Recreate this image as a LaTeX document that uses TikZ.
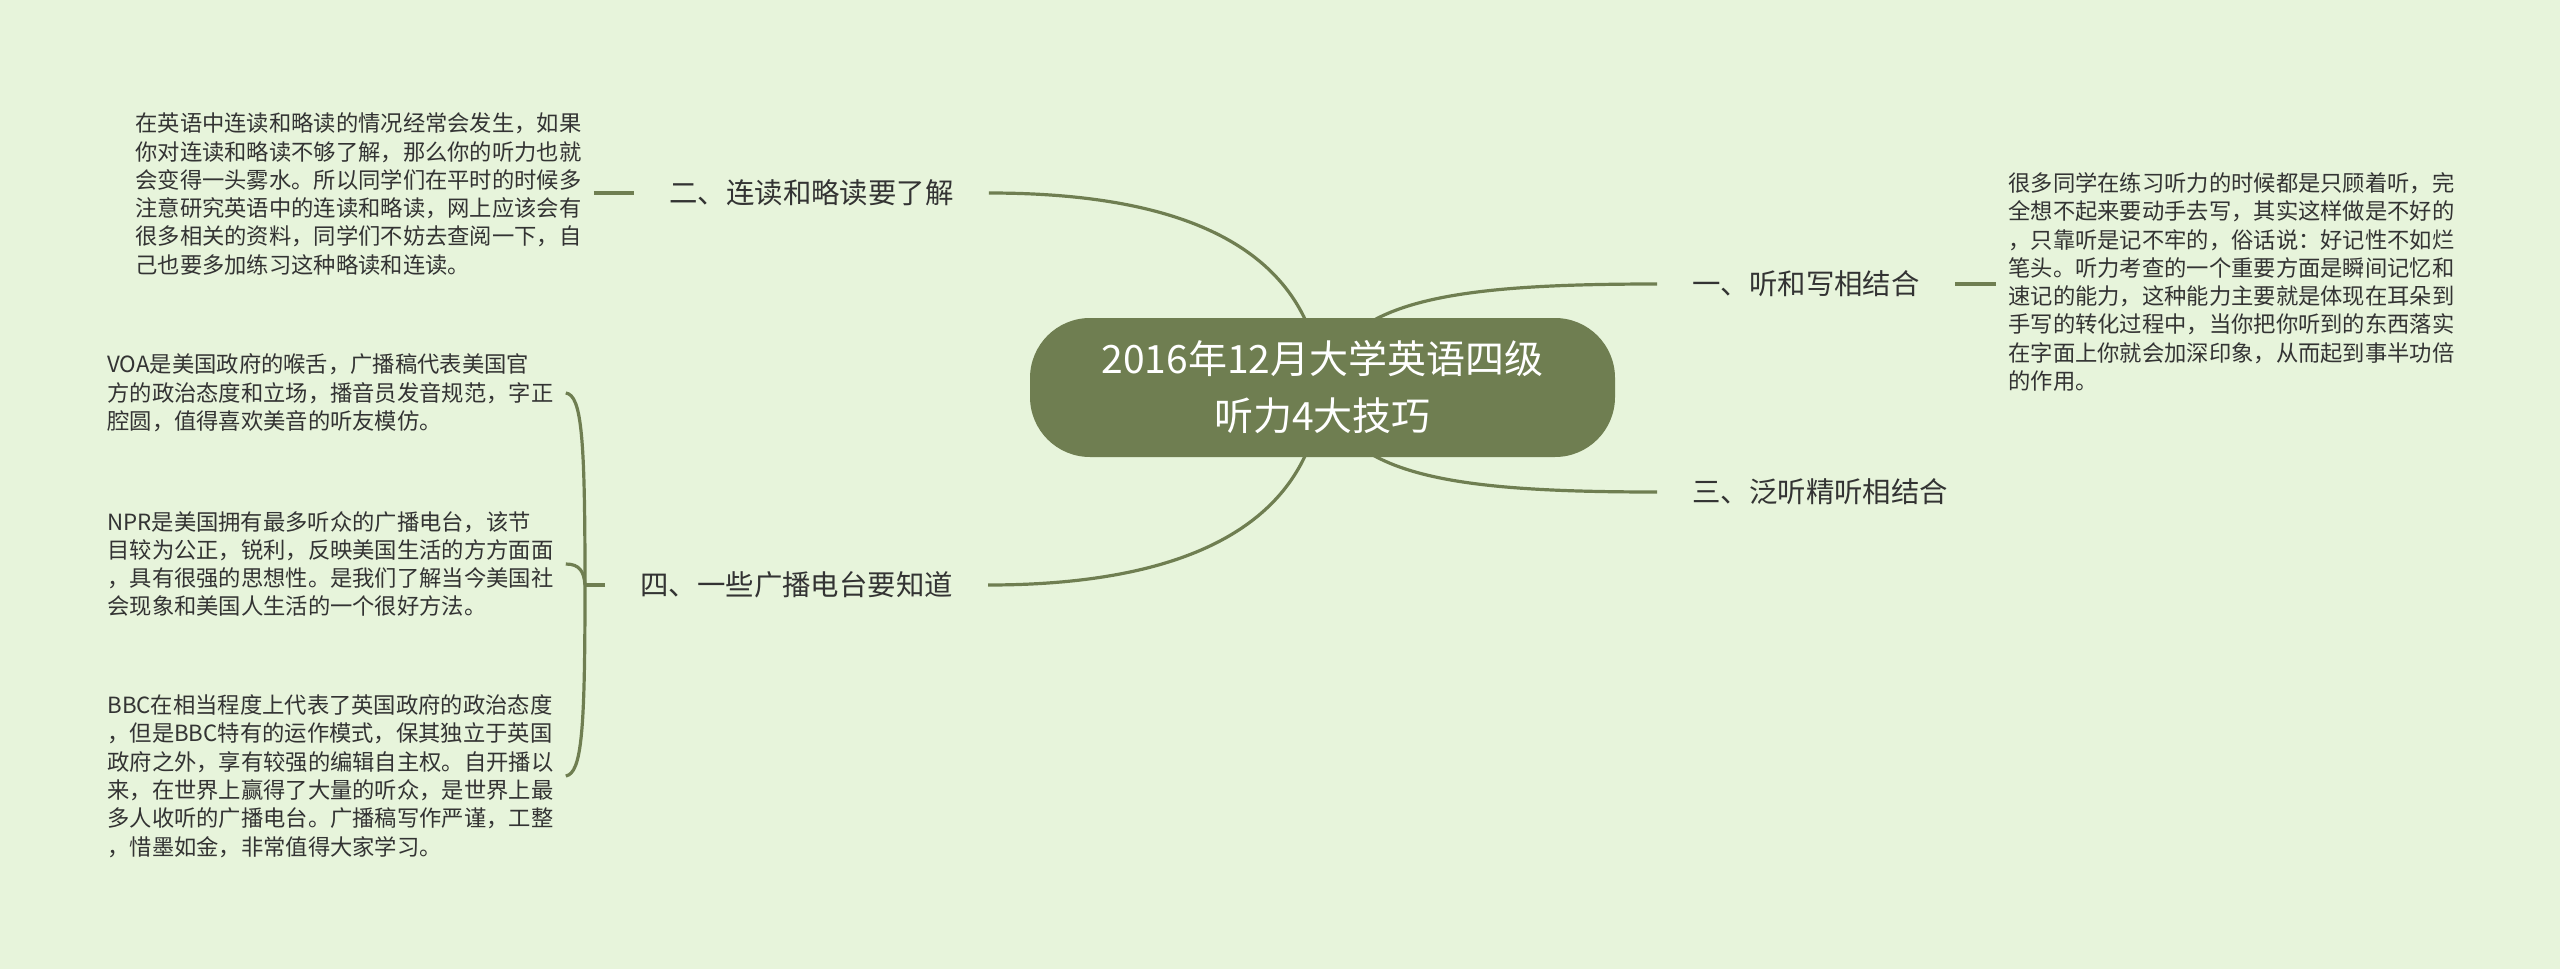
\documentclass[tikz,border=0pt]{standalone}
\usepackage{fontspec}
\usetikzlibrary{backgrounds}
\newfontfamily\cjk{Noto Sans CJK SC}
\definecolor{bg}{HTML}{E7F4DB}
\definecolor{olive}{HTML}{6F7E51}
\definecolor{txt}{HTML}{333333}
\begin{document}
\begin{tikzpicture}[x=0.5pt,y=-0.5pt,
  link/.style={draw=olive,line width=1.6pt},
  rootbox/.style={fill=olive,rounded corners=30pt,minimum width=292.5pt,minimum height=69.5pt,text=white,align=center,font=\cjk\fontsize{19.5}{28.5}\selectfont,inner sep=0pt},
  branch/.style={inner xsep=17.5pt,inner ysep=0pt,text=txt,font=\cjk\fontsize{14.2}{17}\selectfont},
  detail/.style={inner xsep=6pt,inner ysep=0pt,text=txt,align=left,font=\cjk\fontsize{11.15}{14.15}\selectfont}]
\useasboundingbox (0,0) rectangle (2560,969);

\node[rootbox] (root) at (1322.5,387.5) {2016年12月大学英语四级\\听力4大技巧};

\node[branch,anchor=west] (b1) at (1657,284) {一、听和写相结合};
\node[branch,anchor=west] (b3) at (1657,492) {三、泛听精听相结合};
\node[branch,anchor=west] (b2) at (634,193) {二、连读和略读要了解};
\node[branch,anchor=west] (b4) at (605,585) {四、一些广播电台要知道};

\node[detail,anchor=west] (d1) at (1996,282) {很多同学在练习听力的时候都是只顾着听，完\\全想不起来要动手去写，其实这样做是不好的\\，只靠听是记不牢的，俗话说：好记性不如烂\\笔头。听力考查的一个重要方面是瞬间记忆和\\速记的能力，这种能力主要就是体现在耳朵到\\手写的转化过程中，当你把你听到的东西落实\\在字面上你就会加深印象，从而起到事半功倍\\的作用。};

\node[detail,anchor=west] (d2) at (123,194) {在英语中连读和略读的情况经常会发生，如果\\你对连读和略读不够了解，那么你的听力也就\\会变得一头雾水。所以同学们在平时的时候多\\注意研究英语中的连读和略读，网上应该会有\\很多相关的资料，同学们不妨去查阅一下，自\\己也要多加练习这种略读和连读。};

\node[detail,anchor=west] (voa) at (95,393) {VOA是美国政府的喉舌，广播稿代表美国官\\方的政治态度和立场，播音员发音规范，字正\\腔圆，值得喜欢美音的听友模仿。};

\node[detail,anchor=west] (npr) at (95,564) {NPR是美国拥有最多听众的广播电台，该节\\目较为公正，锐利，反映美国生活的方方面面\\，具有很强的思想性。是我们了解当今美国社\\会现象和美国人生活的一个很好方法。};

\node[detail,anchor=west] (bbc) at (95,776) {BBC在相当程度上代表了英国政府的政治态度\\，但是BBC特有的运作模式，保其独立于英国\\政府之外，享有较强的编辑自主权。自开播以\\来，在世界上赢得了大量的听众，是世界上最\\多人收听的广播电台。广播稿写作严谨，工整\\，惜墨如金，非常值得大家学习。};

\coordinate (j4) at (585,585);

\begin{pgfonlayer}{background}
\fill[bg] (0,0) rectangle (2560,969);
\draw[link] (root.center) .. controls (1310,230) and (1150,193) .. (b2.east);
\draw[link] (root.center) .. controls (1310,545) and (1150,585) .. (b4.east);
\draw[link] (root.center) .. controls (1340,300) and (1450,284) .. (b1.west);
\draw[link] (root.center) .. controls (1340,476) and (1450,492) .. (b3.west);
\draw[link] (b1.east) -- (b1.east -| d1.west);
\draw[link] (b2.west -| d2.east) -- (b2.west);
\draw[link] (b4.west) -- (j4);
\draw[link] (voa.east) .. controls (582,395) and (585,440) .. (j4);
\draw[link] (npr.east) .. controls (580,564) and (584,572) .. (j4);
\draw[link] (bbc.east) .. controls (582,773) and (585,730) .. (j4);
\end{pgfonlayer}
\end{tikzpicture}
\end{document}
